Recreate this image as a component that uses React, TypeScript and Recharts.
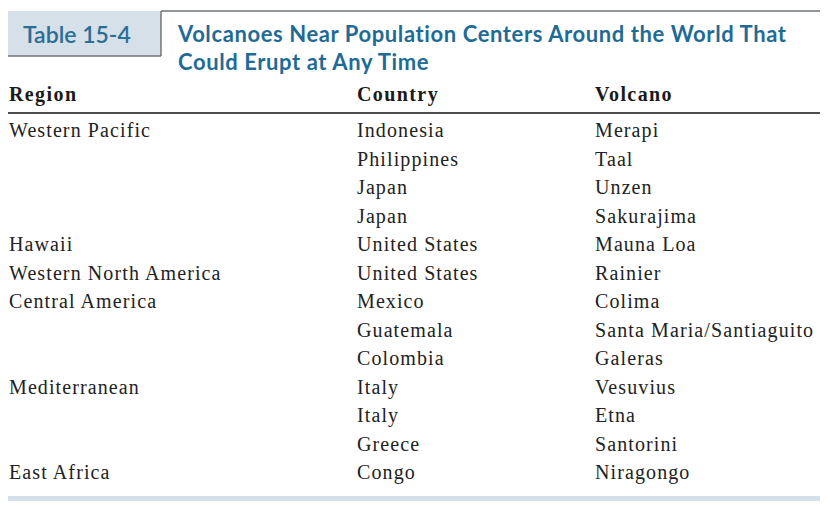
import React from "react";
import { ComposedChart, Scatter, XAxis, YAxis, Customized } from "recharts";

// ---- data ----
const tableNumber = "Table 15-4";
const titleLines = [
  "Volcanoes Near Population Centers Around the World That",
  "Could Erupt at Any Time",
];
const columnHeaders = ["Region", "Country", "Volcano"];
const regions = [
  "Western Pacific", "", "", "", "Hawaii", "Western North America", "Central America",
  "", "", "Mediterranean", "", "", "East Africa",
];
const countries = [
  "Indonesia", "Philippines", "Japan", "Japan", "United States", "United States", "Mexico",
  "Guatemala", "Colombia", "Italy", "Italy", "Greece", "Congo",
];
const volcanoes = [
  "Merapi", "Taal", "Unzen", "Sakurajima", "Mauna Loa", "Rainier", "Colima",
  "Santa Maria/Santiaguito", "Galeras", "Vesuvius", "Etna", "Santorini", "Niragongo",
];

// ---- layout constants ----
const W = 830;
const H = 506;
const COL_X = [0, 348, 586]; // column starts, in x-axis units (px from left table edge)
const SERIF = "'Liberation Serif', 'Times New Roman', serif";
const SANS = "Lato, 'Open Sans', sans-serif";
const BLUE = "#1f6b96";

const columns = [regions, countries, volcanoes];
const seriesData = columns.map((col, c) =>
  col.map((text, row) => ({ x: COL_X[c], row, text }))
);

const CellText = (props: any) => {
  const { cx, cy, payload } = props;
  if (!payload || !payload.text) return null;
  return (
    <text x={cx + 1} y={cy} fontFamily={SERIF} fontSize={20} fill="#222" letterSpacing={1.1}>
      {payload.text}
    </text>
  );
};

const HeaderTick = (props: any) => {
  const { x, payload } = props;
  const idx = COL_X.indexOf(payload.value);
  return (
    <text x={x + 1} y={101} fontFamily={SERIF} fontWeight={700} fontSize={20} fill="#1a1a1a" letterSpacing={1.4}>
      {columnHeaders[idx]}
    </text>
  );
};

const Decorations = () => (
  <g>
    <rect x={8} y={11} width={153} height={45} fill="#d5e0e8" />
    <line x1={8} y1={56} x2={161} y2={56} stroke="#6f7478" strokeWidth={1.5} />
    <line x1={161} y1={11} x2={161} y2={56} stroke="#6f7478" strokeWidth={1.5} />
    <line x1={161} y1={11} x2={820} y2={11} stroke="#6f7478" strokeWidth={1.5} />
    <text x={23} y={43} fontFamily={SANS} fontWeight={600} fontSize={23} fill="#2a6e96">
      {tableNumber}
    </text>
    {titleLines.map((t, i) => (
      <text key={i} x={178} y={42 + i * 28} fontFamily={SANS} fontWeight={700} fontSize={22} letterSpacing={0.6} fill={BLUE}>
        {t}
      </text>
    ))}
    <rect x={8} y={496} width={812} height={5} fill="#d3dfe9" />
  </g>
);

export default function App() {
  return (
    <div style={{ width: W, height: H, background: "#fff" }}>
      <style>{`body{margin:0;}`}</style>
      <ComposedChart width={W} height={H} margin={{ top: 83, right: 10, bottom: 11, left: 8 }}>
        <XAxis
          type="number"
          dataKey="x"
          orientation="top"
          domain={[0, 812]}
          ticks={COL_X}
          height={30}
          tickLine={false}
          axisLine={{ stroke: "#111", strokeWidth: 1.6 }}
          tick={<HeaderTick />}
          interval={0}
        />
        <YAxis type="number" dataKey="row" domain={[-0.8596, 12.544]} reversed hide allowDataOverflow />
        {seriesData.map((d, i) => (
          <Scatter key={i} data={d} shape={<CellText />} isAnimationActive={false} />
        ))}
        <Customized component={Decorations} />
      </ComposedChart>
    </div>
  );
}
